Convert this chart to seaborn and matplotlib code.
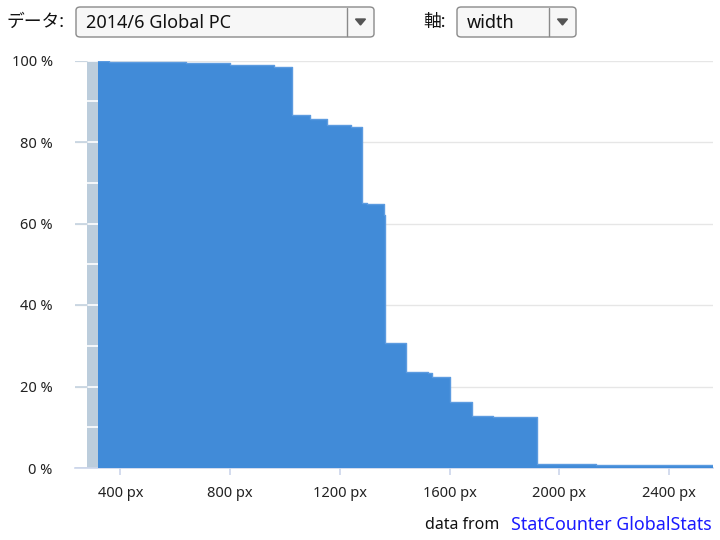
import matplotlib
matplotlib.use('Agg')
import matplotlib.pyplot as plt
from matplotlib.patches import FancyBboxPatch, Polygon
from matplotlib.ticker import FuncFormatter
import seaborn as sns
import pandas as pd

# 画面幅ごとの累積シェア (幅 >= x のユーザーの割合, %)
widths = [320, 360, 480, 640, 720, 800, 960, 1024, 1093, 1152, 1240, 1280, 1300,
          1360, 1366, 1440, 1520, 1536, 1600, 1680, 1760, 1920, 2020, 2133, 2560]
shares = [100.0, 99.7, 99.6, 99.5, 99.4, 98.8, 98.5, 86.6, 85.6, 84.2, 83.8, 65.1, 64.8,
          62.0, 30.6, 23.6, 23.2, 22.3, 16.1, 12.7, 12.5, 1.0, 0.9, 0.7, 0.7]
xticks = [400, 800, 1200, 1600, 2000, 2400]
yticks = [0, 20, 40, 60, 80, 100]

df = pd.DataFrame({'width': widths, 'share': shares})

sns.set_style('white')
plt.rcParams['font.family'] = ['Noto Sans', 'Noto Sans CJK JP', 'DejaVu Sans']

W, H = 720, 540
fig = plt.figure(figsize=(7.2, 5.4), dpi=100)

def fx(px):
    return px / W

def fy(py):
    return 1 - py / H

ax = fig.add_axes([fx(75), fy(468), fx(713 - 75), (468 - 60.5) / H])

# grid lines
for v in yticks[1:]:
    ax.axhline(v, color='#e6e6e6', lw=1, zorder=0)

# grey band on the left, with white marks every 10 %
ax.axvspan(280, 320, color='#bccddc', lw=0, zorder=1)
for v in range(10, 101, 10):
    ax.plot([280, 320], [v, v], color='white', lw=1.2, zorder=2)
for v in yticks:
    ax.plot([235, 280], [v, v], color='#c5d3e0', lw=1.2, zorder=2)

ax.fill_between(df['width'], df['share'], step='post', color='#418bd8', lw=0, zorder=3)
sns.lineplot(data=df, x='width', y='share', drawstyle='steps-post', color='#5c9be0',
             lw=1, ax=ax, zorder=4)

ax.set_xlim(235, 2560)
ax.set_ylim(0, 100)
ax.set_xlabel('')
ax.set_ylabel('')

for s in ['top', 'right', 'left']:
    ax.spines[s].set_visible(False)
ax.spines['bottom'].set_color('#ccd6eb')
ax.spines['bottom'].set_linewidth(1.2)

ax.set_xticks(xticks)
ax.xaxis.set_major_formatter(FuncFormatter(lambda v, p: f'{int(v)} px'))
ax.set_yticks(yticks)
ax.yaxis.set_major_formatter(FuncFormatter(lambda v, p: f'{int(v)} %'))
ax.tick_params(axis='x', length=5, width=1.2, color='#ccd6eb', pad=8, labelsize=10.5,
               labelcolor='#222222', bottom=True)
ax.tick_params(axis='y', length=0, pad=16, labelsize=10.5, labelcolor='#222222')

# top controls
def dropdown(x0, x1, div, label):
    box = FancyBboxPatch((fx(x0), fy(37)), fx(x1 - x0), (37 - 7) / H,
                         boxstyle='round,pad=0,rounding_size=0.006',
                         transform=fig.transFigure, facecolor='#f7f7f7',
                         edgecolor='#8a8a8a', lw=1)
    fig.patches.append(box)
    fig.lines.append(plt.Line2D([fx(div), fx(div)], [fy(8), fy(36)],
                                transform=fig.transFigure, color='#8a8a8a', lw=1))
    cx = (div + x1) / 2
    tri = Polygon([[fx(cx - 5), fy(19)], [fx(cx + 5), fy(19)], [fx(cx), fy(25)]],
                  closed=True, transform=fig.transFigure, color='#555555')
    fig.patches.append(tri)
    fig.text(fx(x0 + 10), fy(23), label, fontsize=13, va='center', ha='left', color='#111111')

fig.text(fx(7), fy(22), 'データ:', fontsize=12.8, va='center', ha='left', color='#111111')
dropdown(76, 374, 347, '2014/6 Global PC')
fig.text(fx(423), fy(22), '軸:', fontsize=12.8, va='center', ha='left', color='#111111')
dropdown(457, 576, 549, 'width')

# source
fig.text(fx(499), fy(525), 'data from', fontsize=11.5, va='center', ha='right', color='#111111')
fig.text(fx(511), fy(525), 'StatCounter GlobalStats', fontsize=12.8, va='center', ha='left',
         color='#1a1aff')

fig.savefig('out.png', dpi=100)
